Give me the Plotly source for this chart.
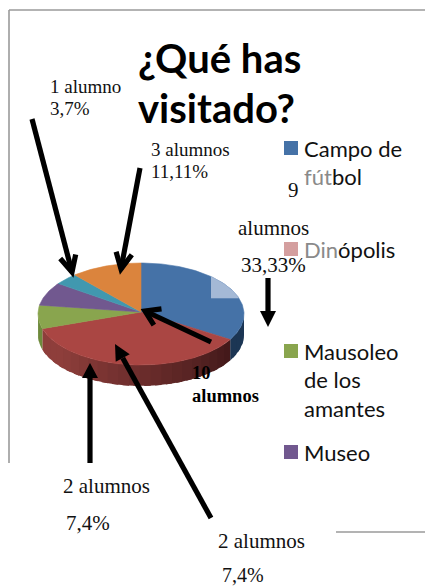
import math
import plotly.graph_objects as go

categories = ["Campo de fútbol", "Dinópolis", "Mausoleo de los amantes", "Museo", "Otros", "Otros 2"]
alumnos = [9, 10, 2, 2, 1, 3]
slice_colors = ["#4572A7", "#AA4643", "#89A54E", "#71588F", "#4198AF", "#DB843D"]
wall_light = ["#2F5580", "#8E3E3B", "#6E8A3C", "#5A4672", "#33788C", "#B06A30"]
wall_dark = ["#1C3654", "#43191A", "#6E8A3C", "#5A4672", "#33788C", "#B06A30"]

CX, CY, RX, RY, DEPTH = 141, 314, 103, 51, 21


def pt(frac, dy=0):
    a = 2 * math.pi * frac
    return CX + RX * math.sin(a), CY - RY * math.cos(a) + dy


def mix(c1, c2, t):
    a = [int(c1[i:i + 2], 16) for i in (1, 3, 5)]
    b = [int(c2[i:i + 2], 16) for i in (1, 3, 5)]
    return "#%02x%02x%02x" % tuple(round(a[i] + (b[i] - a[i]) * t) for i in range(3))


def poly(xs, ys, color, lw=0.6):
    return go.Scatter(x=xs, y=ys, mode="lines", fill="toself", fillcolor=color,
                      line=dict(color=color, width=lw), hoverinfo="skip", showlegend=False)


fig = go.Figure()
total = sum(alumnos)

# side wall, drawn in overlapping strips so it can shade from left to right
start = 0.0
for i, v in enumerate(alumnos):
    end = start + v / total
    lo, hi = max(start, 0.25), min(end, 0.75)
    n = max(2, int((hi - lo) * 60))
    if hi > lo:
        for k in range(n):
            f0 = lo + (hi - lo) * k / n
            f1 = lo + (hi - lo) * (k + 1.6) / n
            f1 = min(f1, hi)
            m = 4
            top = [pt(f0 + (f1 - f0) * q / m) for q in range(m + 1)]
            xs = [p[0] for p in top] + [p[0] for p in reversed(top)] + [top[0][0]]
            ys = [p[1] for p in top] + [p[1] + DEPTH for p in reversed(top)] + [top[0][1]]
            t = min(1, max(0, (f0 - 0.33) / 0.3))
            fig.add_trace(poly(xs, ys, mix(wall_dark[i], wall_light[i], t), lw=0))
    start = end

# top face
start = 0.0
for i, v in enumerate(alumnos):
    end = start + v / total
    n = max(6, int(v * 12))
    xs, ys = [CX], [CY - 2]
    for k in range(n + 1):
        x, y = pt(start + (end - start) * k / n)
        xs.append(x)
        ys.append(y)
    xs.append(CX)
    ys.append(CY - 2)
    fig.add_trace(poly(xs, ys, slice_colors[i]))
    start = end

# pale legend square showing through the blue slice
sq_x, sq_y = 211, 298
arc = [pt(j / 400) for j in range(0, 100)]
arc = [p for p in arc if p[0] >= sq_x and p[1] <= sq_y]
fig.add_trace(poly([sq_x] + [p[0] for p in arc] + [arc[-1][0], sq_x],
                   [arc[0][1]] + [p[1] for p in arc] + [sq_y, sq_y], "#A4B9D6"))

shapes = []
FRAME = "#9A9A9A"
for x0, y0, x1, y1 in [(9, 10, 425, 10), (9, 10, 9, 463), (336, 532, 425, 532)]:
    shapes.append(dict(type="line", x0=x0, y0=y0, x1=x1, y1=y1, line=dict(color=FRAME, width=1.6), layer="below"))


def arrow(x0, y0, x1, y1, filled, width=5.2, hl=16, hw=8):
    d = math.hypot(x1 - x0, y1 - y0)
    ux, uy = (x1 - x0) / d, (y1 - y0) / d
    nx, ny = -uy, ux
    bx, by = x1 - ux * hl, y1 - uy * hl
    lx, ly = bx + nx * hw, by + ny * hw
    rx, ry = bx - nx * hw, by - ny * hw
    if filled:
        shapes.append(dict(type="line", x0=x0, y0=y0, x1=bx, y1=by, line=dict(color="black", width=width)))
        shapes.append(dict(type="path", path=f"M{lx},{ly} L{x1},{y1} L{rx},{ry} Z", fillcolor="black", line=dict(width=0)))
    else:
        shapes.append(dict(type="line", x0=x0, y0=y0, x1=x1, y1=y1, line=dict(color="black", width=width)))
        shapes.append(dict(type="path", path=f"M{lx},{ly} L{x1},{y1} L{rx},{ry}", line=dict(color="black", width=width)))


arrow(32, 119, 72, 272, False)
arrow(140, 168, 121, 269, False)
arrow(211, 342, 145, 311, False, hl=14, hw=9)
arrow(268, 278, 268, 327, True, hl=16, hw=8)
arrow(90, 463, 90, 363, True, hl=15, hw=8)
arrow(211, 518, 115, 344, True, hl=16, hw=8)

for y, c in [(141, "#4572A7"), (242, "#D49F9F"), (344, "#89A54E"), (445, "#71588F")]:
    shapes.append(dict(type="rect", x0=284, x1=298, y0=y, y1=y + 14, fillcolor=c, line=dict(width=0)))

SANS, SERIF = "Lato", "Liberation Serif"
INK = "#111111"
GREY = "#8a8a8a"
notes = [
    (137, 58, "<b>¿Qué has</b>", SANS, 40, "black"),
    (137, 108, "<b>visitado?</b>", SANS, 40, "black"),
    (303, 148, "Campo de", SANS, 22, INK),
    (303, 176, f'<span style="color:{GREY}">fút</span>bol', SANS, 22, INK),
    (303, 249, f'<span style="color:{GREY}">Din</span>ópolis', SANS, 22, INK),
    (303, 351, "Mausoleo", SANS, 22, INK),
    (303, 379, "de los", SANS, 22, INK),
    (303, 408, "amantes", SANS, 22, INK),
    (303, 452, "Museo", SANS, 22, INK),
    (49, 86, "1 alumno", SERIF, 19, INK),
    (49, 108, "3,7%", SERIF, 19, INK),
    (150, 149, "3 alumnos", SERIF, 19, INK),
    (150, 171, "11,11%", SERIF, 19, INK),
    (287, 190, "9", SERIF, 21, INK),
    (237, 228, "alumnos", SERIF, 21, INK),
    (240, 265, "33,33%", SERIF, 21, INK),
    (191, 373, "<b>10</b>", SERIF, 18.5, "black"),
    (191, 396, "<b>alumnos</b>", SERIF, 18.5, "black"),
    (62, 486, "2 alumnos", SERIF, 21, INK),
    (65, 523, "7,4%", SERIF, 21, INK),
    (217, 541, "2 alumnos", SERIF, 21, INK),
    (221, 575, "7,4%", SERIF, 20, INK),
]
annotations = [dict(x=x, y=y, text=t, showarrow=False, xanchor="left", yanchor="middle",
                    xref="x", yref="y", align="left", borderpad=0,
                    font=dict(family=f, size=s, color=c)) for x, y, t, f, s, c in notes]

fig.update_layout(
    width=425, height=587, margin=dict(l=0, r=0, t=0, b=0),
    paper_bgcolor="white", plot_bgcolor="white", showlegend=False,
    xaxis=dict(range=[0, 425], visible=False, fixedrange=True),
    yaxis=dict(range=[587, 0], visible=False, fixedrange=True),
    shapes=shapes, annotations=annotations,
)
fig.write_html("out.html", config={"displayModeBar": False},
               post_script="document.body.style.margin='0';document.body.style.overflow='hidden';")
